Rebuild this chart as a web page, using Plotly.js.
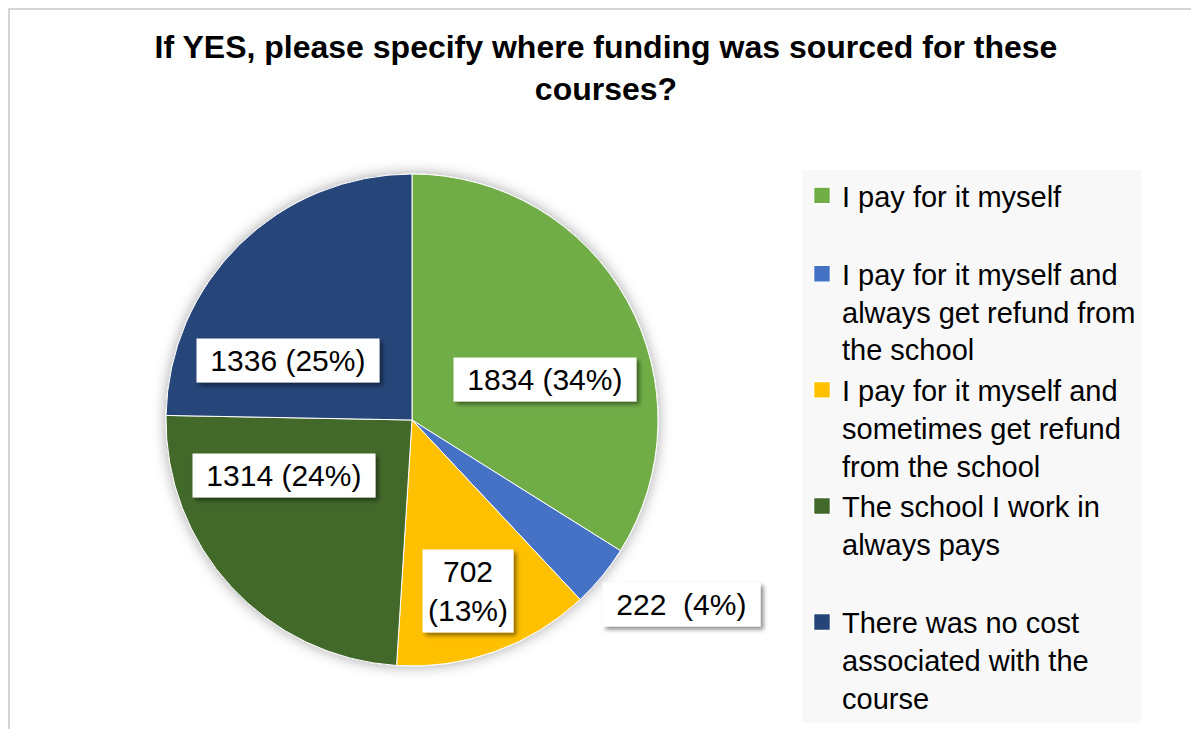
<!DOCTYPE html>
<html>
<head>
<meta charset="utf-8">
<script src="https://cdn.plot.ly/plotly-3.0.1.min.js"></script>
<style>
  html, body { margin: 0; padding: 0; background: #ffffff; }
  #chart { width: 1191px; height: 729px; }
</style>
</head>
<body>
<div id="chart"></div>
<script>
// ---- data ----
var categories = [
  "I pay for it myself",
  "I pay for it myself and<br>always get refund from<br>the school",
  "I pay for it myself and<br>sometimes get refund<br>from the school",
  "The school I work in<br>always pays",
  "There was no cost<br>associated with the<br>course"
];
var counts = [1834, 222, 702, 1314, 1336];
var sliceColors = ["#70AD47", "#4472C4", "#FFC000", "#43682B", "#264478"];
var titleText = "If YES, please specify where funding was sourced for these<br>courses?";

// ---- layout helpers (styling / placement only) ----
var W = 1191, H = 729;
var pieCx = 412, pieCy = 420, pieR = 246;
// data-label box centres in pixels (placement only)
var labelPx = [[545, 379], [681, 604], [468, 591], [284, 475], [288, 361]];
// legend padding lines so entries are evenly spread like the original
var legendPad = ["<br> ", "", "", "<br> ", ""];

var total = counts.reduce(function (a, b) { return a + b; }, 0);
var legendLabels = categories.map(function (c, i) { return c + legendPad[i]; });

var trace = {
  type: "pie",
  labels: legendLabels,
  values: counts,
  sort: false,
  direction: "clockwise",
  rotation: 0,
  textinfo: "none",
  hoverinfo: "label+value+percent",
  marker: { colors: sliceColors, line: { color: "#ffffff", width: 1 } },
  domain: {
    x: [(pieCx - pieR) / W, (pieCx + pieR) / W],
    y: [1 - (pieCy + pieR) / H, 1 - (pieCy - pieR) / H]
  }
};

var annotations = counts.map(function (v, i) {
  var pct = Math.round(v / total * 100);
  var txt;
  if (i === 2) {
    txt = v + "<br>(" + pct + "%)";
  } else if (i === 1) {
    txt = "\u00a0" + v + "\u00a0\u00a0(" + pct + "%)\u00a0";
  } else {
    txt = "\u00a0" + v + " (" + pct + "%)\u00a0";
  }
  return {
    xref: "paper", yref: "paper",
    x: labelPx[i][0] / W, y: 1 - labelPx[i][1] / H,
    xanchor: "center", yanchor: "middle",
    showarrow: false, text: txt, borderpad: 5,
    bgcolor: "#ffffff",
    font: { family: "Liberation Sans, Arial, sans-serif", size: 30, color: "#000000" }
  };
});

var layout = {
  width: W, height: H,
  margin: { l: 0, r: 0, t: 0, b: 0 },
  paper_bgcolor: "#ffffff",
  title: {
    text: titleText,
    font: { family: "Liberation Sans, Arial, sans-serif", size: 32, color: "#000000", weight: "bold" },
    x: 606 / W, xanchor: "center",
    y: 1 - 58 / H, yanchor: "top"
  },
  showlegend: true,
  legend: {
    x: 802 / W, xanchor: "left",
    y: 1 - 170 / H, yanchor: "top",
    bgcolor: "#F8F8F8",
    font: { family: "Liberation Sans, Arial, sans-serif", size: 29, color: "#000000" },
    valign: "top",
    traceorder: "normal"
  },
  shapes: [{
    type: "rect", xref: "paper", yref: "paper",
    x0: 9 / W, x1: 1.02, y0: -0.02, y1: 1 - 9 / H,
    line: { color: "#C8C8C8", width: 1.5 }, fillcolor: "rgba(0,0,0,0)", layer: "below"
  }],
  annotations: annotations
};

Plotly.newPlot("chart", [trace], layout, { displayModeBar: false, responsive: false }).then(function (gd) {
  // soft drop shadows (purely cosmetic)
  var svg = gd.querySelector("svg.main-svg");
  var NS = "http://www.w3.org/2000/svg";
  var defs = svg.querySelector("defs") || svg.insertBefore(document.createElementNS(NS, "defs"), svg.firstChild);
  function addShadow(id, dx, dy, blur, op) {
    var f = document.createElementNS(NS, "filter");
    f.setAttribute("id", id);
    f.setAttribute("x", "-20%"); f.setAttribute("y", "-20%");
    f.setAttribute("width", "150%"); f.setAttribute("height", "150%");
    var ds = document.createElementNS(NS, "feDropShadow");
    ds.setAttribute("dx", dx); ds.setAttribute("dy", dy);
    ds.setAttribute("stdDeviation", blur);
    ds.setAttribute("flood-color", "#000000");
    ds.setAttribute("flood-opacity", op);
    f.appendChild(ds);
    defs.appendChild(f);
  }
  addShadow("lblShadow", 3, 3, 2, 0.45);
  addShadow("pieShadow", 0, 0, 7, 0.35);
  gd.querySelectorAll(".annotation rect.bg").forEach(function (r) {
    r.setAttribute("filter", "url(#lblShadow)");
  });
  var pieTrace = gd.querySelector(".pielayer .trace");
  if (pieTrace) pieTrace.setAttribute("filter", "url(#pieShadow)");
  // larger legend swatches like the original
  gd.querySelectorAll(".legend .legendpoints path").forEach(function (p) {
    var t = p.getAttribute("transform") || "";
    p.setAttribute("transform", t + " scale(1.4)");
  });
});
</script>
</body>
</html>
